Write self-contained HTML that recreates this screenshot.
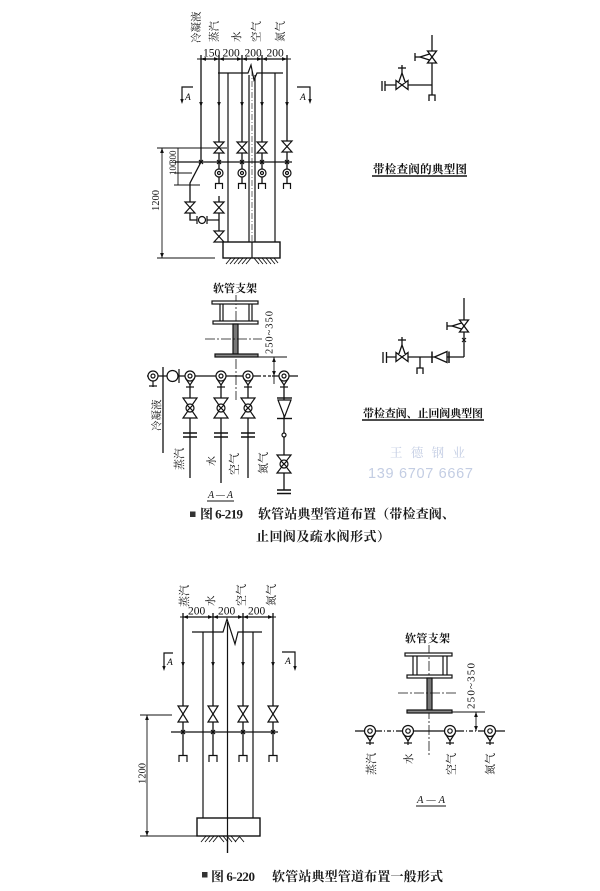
<!DOCTYPE html>
<html><head><meta charset="utf-8"><style>
html,body{margin:0;padding:0;background:#fff;}
svg{display:block;}
</style></head><body>
<svg width="600" height="891" viewBox="0 0 600 891" xmlns="http://www.w3.org/2000/svg">
<defs>
<marker id="a" viewBox="0 0 8 6" refX="8" refY="3" markerWidth="5" markerHeight="4" markerUnits="userSpaceOnUse" orient="auto-start-reverse"><path d="M0,0 L8,3 L0,6 z" fill="#111"/></marker>
</defs>
<rect width="600" height="891" fill="#fff"/>

<!-- ================= TOP-LEFT ELEVATION ================= -->
<g font-family="'Liberation Serif','Noto Serif CJK SC',serif" fill="#111">
<text transform="translate(199.5,43) rotate(-90)" font-size="10.5">冷凝液</text>
<text transform="translate(217.5,42) rotate(-90)" font-size="10.5">蒸汽</text>
<text transform="translate(240,42) rotate(-90)" font-size="10.5">水</text>
<text transform="translate(259.5,42) rotate(-90)" font-size="10.5">空气</text>
<text transform="translate(283.5,42) rotate(-90)" font-size="10.5">氮气</text>
<text x="203" y="56.5" font-size="11.5">150</text>
<text x="222.5" y="56.5" font-size="11.5">200</text>
<text x="244.5" y="56.5" font-size="11.5">200</text>
<text x="266.5" y="56.5" font-size="11.5">200</text>
<text x="185" y="100" font-size="9.5" font-style="italic">A</text>
<text x="300" y="100" font-size="9.5" font-style="italic">A</text>
<text transform="translate(159,211) rotate(-90)" font-size="10.5">1200</text>
<text transform="translate(176,164) rotate(-90)" font-size="9">300</text>
<text transform="translate(176,175) rotate(-90)" font-size="9">100</text>
</g>
<g stroke="#111" fill="none" stroke-width="1.2">
<line x1="197" y1="59" x2="291" y2="59" stroke-width="0.9"/>
<line x1="201" y1="59" x2="219" y2="59" marker-start="url(#a)" marker-end="url(#a)"/>
<line x1="219" y1="59" x2="242" y2="59" marker-start="url(#a)" marker-end="url(#a)"/>
<line x1="242" y1="59" x2="262" y2="59" marker-start="url(#a)" marker-end="url(#a)"/>
<line x1="262" y1="59" x2="287" y2="59" marker-start="url(#a)" marker-end="url(#a)"/>
<polyline points="218,73 248,73 251,65 254,80 257,73 283,73"/>
<line x1="228" y1="73" x2="228" y2="242"/>
<line x1="275" y1="73" x2="275" y2="242"/>
<line x1="249" y1="75" x2="249" y2="242"/>
<line x1="255" y1="75" x2="255" y2="242"/>
<line x1="252" y1="70" x2="252" y2="242" stroke-width="0.6" stroke-dasharray="6 2 1 2"/>
<polyline points="201,55 201,162 190,183 190,220 197,220" stroke-width="1.3"/>
<line x1="197" y1="216" x2="197" y2="224"/>
<circle cx="202" cy="220" r="3.5" fill="#fff"/>
<line x1="207" y1="216" x2="207" y2="224"/>
<line x1="207" y1="220" x2="219" y2="220"/>
<line x1="219" y1="55" x2="219" y2="183" stroke-width="1.3"/>
<line x1="242" y1="55" x2="242" y2="183" stroke-width="1.3"/>
<line x1="262" y1="55" x2="262" y2="183" stroke-width="1.3"/>
<line x1="287" y1="55" x2="287" y2="183" stroke-width="1.3"/>
<line x1="219" y1="196" x2="219" y2="242" stroke-width="1.3"/>
<path d="M214,142 L224,142 L214,153 L224,153 Z" fill="#fff"/>
<path d="M237,142 L247,142 L237,153 L247,153 Z" fill="#fff"/>
<path d="M257,142 L267,142 L257,153 L267,153 Z" fill="#fff"/>
<path d="M282,141 L292,141 L282,152 L292,152 Z" fill="#fff"/>
<path d="M185,202 L195,202 L185,213 L195,213 Z" fill="#fff"/>
<path d="M214,202 L224,202 L214,213 L224,213 Z" fill="#fff"/>
<path d="M214,231 L224,231 L214,242 L224,242 Z" fill="#fff"/>
<line x1="175" y1="162" x2="292" y2="162"/>
<path d="M199,160 l4,4 M203,160 l-4,4 M217,160 l4,4 M221,160 l-4,4 M240,160 l4,4 M244,160 l-4,4 M260,160 l4,4 M264,160 l-4,4 M285,160 l4,4 M289,160 l-4,4"/>
<circle cx="219" cy="173" r="4" fill="#fff"/><circle cx="219" cy="173" r="1.5"/>
<circle cx="242" cy="173" r="4" fill="#fff"/><circle cx="242" cy="173" r="1.5"/>
<circle cx="262" cy="173" r="4" fill="#fff"/><circle cx="262" cy="173" r="1.5"/>
<circle cx="287" cy="173" r="4" fill="#fff"/><circle cx="287" cy="173" r="1.5"/>
<path d="M215.5,189 V183.5 H222.5 V189 M238.5,189 V183.5 H245.5 V189 M258.5,189 V183.5 H265.5 V189 M283.5,189 V183.5 H290.5 V189"/>
<polyline points="193,87 182,87 182,100"/>
<polyline points="297,87 310,87 310,100"/>
<line x1="157" y1="148" x2="227" y2="148" stroke-width="0.9"/>
<line x1="157" y1="258" x2="215" y2="258" stroke-width="0.9"/>
<line x1="162" y1="148" x2="162" y2="258" stroke-width="0.9" marker-start="url(#a)" marker-end="url(#a)"/>
<line x1="178" y1="148" x2="178" y2="185" stroke-width="0.9"/>
<line x1="174" y1="173" x2="192" y2="173" stroke-width="0.9"/>
<line x1="174" y1="185" x2="200" y2="185" stroke-width="0.9"/>
<rect x="223" y="242" width="57" height="16" stroke-width="1.4" fill="#fff"/>
<line x1="252" y1="242" x2="252" y2="258"/>
<path d="M226,264 l5,-6 M230,264 l5,-6 M234,264 l5,-6 M238,264 l5,-6 M242,264 l5,-6 M246,264 l5,-6 M254,258 l5,6 M258,258 l5,6 M262,258 l5,6 M266,258 l5,6 M270,258 l5,6 M274,258 l4,5" stroke-width="0.9"/>
</g>
<g fill="#111">
<polygon points="199.2,102 202.8,102 201,107"/>
<polygon points="217.2,102 220.8,102 219,107"/>
<polygon points="240.2,102 243.8,102 242,107"/>
<polygon points="260.2,102 263.8,102 262,107"/>
<polygon points="285.2,102 288.8,102 287,107"/>
<polygon points="180.3,99 183.7,99 182,104"/>
<polygon points="308.3,99 311.7,99 310,104"/>
</g>

<!-- ================= TOP-RIGHT ================= -->
<g stroke="#111" fill="none" stroke-width="1.3">
<line x1="432" y1="35" x2="432" y2="95"/>
<line x1="385" y1="85" x2="432" y2="85"/>
<line x1="382" y1="81" x2="382" y2="91"/>
<line x1="385" y1="81" x2="385" y2="91"/>
<path d="M429,101 V95 H435 V101"/>
<path d="M427.5,51 L436.5,63 L427.5,63 L436.5,51 Z" fill="#fff"/>
<polyline points="429.5,54 420,57 429.5,60" fill="#fff"/>
<line x1="420" y1="57" x2="415" y2="57"/>
<line x1="415" y1="53" x2="415" y2="61"/>
<path d="M396,80.5 L408,89.5 L408,80.5 L396,89.5 Z" fill="#fff"/>
<polyline points="398.5,83 402,73 405.5,83" fill="#fff"/>
<line x1="402" y1="73" x2="402" y2="65"/>
<line x1="398" y1="68" x2="406" y2="68"/>
<line x1="372" y1="176" x2="467" y2="176" stroke-width="1.4"/>
</g>
<text x="373" y="173" font-family="'Liberation Serif','Noto Serif CJK SC',serif" font-size="11.5" font-weight="bold" fill="#111" textLength="94">带检查阀的典型图</text>

<!-- ================= MIDDLE-LEFT A-A ================= -->
<text x="213" y="292" font-family="'Liberation Serif','Noto Serif CJK SC',serif" font-size="11" font-weight="bold" fill="#111" textLength="44">软管支架</text>
<g stroke="#111" fill="none" stroke-width="1.2">
<line x1="236" y1="295" x2="236" y2="400" stroke-width="0.8" stroke-dasharray="10 2 2 2"/>
<rect x="212" y="301" width="46" height="3" fill="#fff"/>
<line x1="220" y1="304" x2="220" y2="321"/><line x1="223" y1="304" x2="223" y2="321"/>
<line x1="249" y1="304" x2="249" y2="321"/><line x1="252" y1="304" x2="252" y2="321"/>
<rect x="213" y="321" width="45" height="3" fill="#fff"/>
<rect x="233" y="324" width="5" height="30" fill="#777"/>
<line x1="205" y1="339" x2="262" y2="339" stroke-width="0.8" stroke-dasharray="10 2 2 2"/>
<rect x="215" y="354" width="43" height="3" fill="#888"/>
<line x1="258" y1="357" x2="287" y2="357" stroke-width="0.9"/>
<line x1="274" y1="357" x2="274" y2="376" stroke-width="0.9" marker-start="url(#a)" marker-end="url(#a)"/>
<line x1="274" y1="376" x2="274" y2="384" stroke-width="0.9"/>
<line x1="147" y1="376" x2="258" y2="376"/>
<line x1="258" y1="376" x2="272" y2="376" stroke-dasharray="3 2"/>
<line x1="272" y1="376" x2="298" y2="376"/>
<line x1="163" y1="367" x2="163" y2="453" stroke-width="1.3"/>
<circle cx="153" cy="376" r="5" fill="#fff"/><circle cx="153" cy="376" r="2"/>
<line x1="153" y1="381" x2="153" y2="387"/><line x1="149" y1="386" x2="157" y2="386"/>
<circle cx="172.5" cy="376" r="5.5" fill="#fff"/>
<line x1="179" y1="369" x2="179" y2="383"/>
<line x1="190" y1="385" x2="190" y2="478" stroke-width="1.3"/>
<line x1="221" y1="385" x2="221" y2="483" stroke-width="1.3"/>
<line x1="248" y1="385" x2="248" y2="478" stroke-width="1.3"/>
<line x1="284" y1="385" x2="284" y2="490" stroke-width="1.3"/>
<circle cx="190" cy="376" r="5" fill="#fff"/><circle cx="190" cy="376" r="2"/><polyline points="185.7,378.5 190,385 194.3,378.5"/><line x1="186" y1="387" x2="194" y2="387"/>
<circle cx="221" cy="376" r="5" fill="#fff"/><circle cx="221" cy="376" r="2"/><polyline points="216.7,378.5 221,385 225.3,378.5"/><line x1="217" y1="387" x2="225" y2="387"/>
<circle cx="248" cy="376" r="5" fill="#fff"/><circle cx="248" cy="376" r="2"/><polyline points="243.7,378.5 248,385 252.3,378.5"/><line x1="244" y1="387" x2="252" y2="387"/>
<circle cx="284" cy="376" r="5" fill="#fff"/><circle cx="284" cy="376" r="2"/><polyline points="279.7,378.5 284,385 288.3,378.5"/><line x1="280" y1="387" x2="288" y2="387"/>
<path d="M183,398 L197,398 L183,418 L197,418 Z" fill="#fff"/><circle cx="190" cy="408" r="4" fill="#fff"/><path d="M187.2,405.2 l5.6,5.6 M192.8,405.2 l-5.6,5.6"/>
<path d="M214,398 L228,398 L214,418 L228,418 Z" fill="#fff"/><circle cx="221" cy="408" r="4" fill="#fff"/><path d="M218.2,405.2 l5.6,5.6 M223.8,405.2 l-5.6,5.6"/>
<path d="M241,398 L255,398 L241,418 L255,418 Z" fill="#fff"/><circle cx="248" cy="408" r="4" fill="#fff"/><path d="M245.2,405.2 l5.6,5.6 M250.8,405.2 l-5.6,5.6"/>
<path d="M277,455 L291,455 L277,473 L291,473 Z" fill="#fff"/><circle cx="284" cy="464" r="4" fill="#fff"/><path d="M281.2,461.2 l5.6,5.6 M286.8,461.2 l-5.6,5.6"/>
<path d="M183,433 H197 M183,437 H197 M214,433 H228 M214,437 H228 M241,433 H255 M241,437 H255 M277,490 H291 M277,493.5 H291" stroke-width="1.4"/>
<line x1="277" y1="398" x2="292" y2="398" stroke-width="1.4"/>
<polygon points="278,400 291,400 284.5,417" fill="#fff"/>
<line x1="277" y1="418.5" x2="292" y2="418.5" stroke-width="1.4"/>
<circle cx="284" cy="435" r="2" fill="#fff"/>
</g>
<g font-family="'Liberation Serif','Noto Serif CJK SC',serif" fill="#111">
<text transform="translate(160,431) rotate(-90)" font-size="10.5">冷凝液</text>
<text transform="translate(183,470) rotate(-90)" font-size="11">蒸汽</text>
<text transform="translate(215,466) rotate(-90)" font-size="10">水</text>
<text transform="translate(238,475) rotate(-90)" font-size="11">空气</text>
<text transform="translate(267,474) rotate(-90)" font-size="11">氮气</text>
<text transform="translate(272.5,354) rotate(-90)" font-size="10.5" textLength="43">250~350</text>
<text x="208" y="498" font-size="10" font-style="italic" textLength="25">A—A</text>
</g>
<line x1="207" y1="501" x2="234" y2="501" stroke="#111" stroke-width="1"/>

<!-- ================= MIDDLE-RIGHT ================= -->
<g stroke="#111" fill="none" stroke-width="1.3">
<line x1="464" y1="298" x2="464" y2="357"/>
<path d="M459.5,320 L468.5,332 L459.5,332 L468.5,320 Z" fill="#fff"/>
<polyline points="461.5,323 452,326 461.5,329" fill="#fff"/>
<line x1="452" y1="326" x2="447" y2="326"/>
<line x1="447" y1="322" x2="447" y2="330"/>
<path d="M462,338 l4,4 M466,338 l-4,4" stroke-width="1"/>
<line x1="387" y1="357" x2="464" y2="357"/>
<line x1="383" y1="352" x2="383" y2="363"/>
<line x1="386.5" y1="352" x2="386.5" y2="363"/>
<line x1="432" y1="351.5" x2="432" y2="363" stroke-width="1.5"/>
<polygon points="434.5,357 447,351.5 447,362.5" fill="#fff"/>
<line x1="449" y1="351.5" x2="449" y2="363" stroke-width="1.5"/>
<line x1="420" y1="357" x2="420" y2="368"/>
<path d="M417,374 V368 H423 V374"/>
<path d="M396,352.5 L408,361.5 L408,352.5 L396,361.5 Z" fill="#fff"/>
<polyline points="398.5,355 402,345 405.5,355" fill="#fff"/>
<line x1="402" y1="345" x2="402" y2="337"/>
<line x1="398" y1="340" x2="406" y2="340"/>
<line x1="362" y1="420" x2="484" y2="420" stroke-width="1.4"/>
</g>
<text x="363" y="417" font-family="'Liberation Serif','Noto Serif CJK SC',serif" font-size="11" font-weight="bold" fill="#111" textLength="120">带检查阀、止回阀典型图</text>
<text x="390" y="457" font-family="'Liberation Sans','Noto Serif CJK SC',serif" font-size="12.5" fill="#c3cde3" textLength="75">王 德 钢 业</text>
<text x="368" y="478" font-family="'Liberation Sans',sans-serif" font-size="14.5" fill="#c3cde3" textLength="105">139 6707 6667</text>

<!-- ================= CAPTION 1 ================= -->
<g font-family="'Liberation Serif','Noto Serif CJK SC',serif" font-weight="bold" fill="#1a1a1a">
<rect x="190" y="511.5" width="5.5" height="5.5" fill="#333"/>
<text x="200" y="518.5" font-size="13" textLength="43">图 6-219</text>
<text x="258" y="518.5" font-size="13" textLength="197">软管站典型管道布置（带检查阀、</text>
<text x="256" y="541" font-size="13" textLength="134">止回阀及疏水阀形式）</text>
</g>

<!-- ================= BOTTOM-LEFT ELEVATION ================= -->
<g font-family="'Liberation Serif','Noto Serif CJK SC',serif" fill="#111">
<text transform="translate(188,607) rotate(-90)" font-size="11">蒸汽</text>
<text transform="translate(214,606) rotate(-90)" font-size="10.5">水</text>
<text transform="translate(245,606) rotate(-90)" font-size="11">空气</text>
<text transform="translate(275,606) rotate(-90)" font-size="11">氮气</text>
<text x="188" y="614.5" font-size="11.5">200</text>
<text x="218" y="614.5" font-size="11.5">200</text>
<text x="248" y="614.5" font-size="11.5">200</text>
<text x="167" y="665" font-size="9.5" font-style="italic">A</text>
<text x="285" y="664" font-size="9.5" font-style="italic">A</text>
<text transform="translate(145.5,784) rotate(-90)" font-size="10.5">1200</text>
</g>
<g stroke="#111" fill="none" stroke-width="1.2">
<line x1="180" y1="617" x2="276" y2="617" stroke-width="0.9"/>
<line x1="183" y1="617" x2="213" y2="617" marker-start="url(#a)" marker-end="url(#a)"/>
<line x1="213" y1="617" x2="243" y2="617" marker-start="url(#a)" marker-end="url(#a)"/>
<line x1="243" y1="617" x2="273" y2="617" marker-start="url(#a)" marker-end="url(#a)"/>
<polyline points="192,632 223,632 227,619 235,644 238,632 262,632"/>
<line x1="203" y1="632" x2="203" y2="818"/>
<line x1="253" y1="632" x2="253" y2="818"/>
<line x1="227.5" y1="622" x2="227.5" y2="853"/>
<line x1="183" y1="613" x2="183" y2="755" stroke-width="1.3"/>
<line x1="213" y1="613" x2="213" y2="755" stroke-width="1.3"/>
<line x1="243" y1="613" x2="243" y2="755" stroke-width="1.3"/>
<line x1="273" y1="613" x2="273" y2="755" stroke-width="1.3"/>
<polyline points="173,653 164,653 164,667"/>
<polyline points="282,652 295,652 295,667"/>
<path d="M178,706 L188,706 L178,722 L188,722 Z" fill="#fff"/>
<path d="M208,706 L218,706 L208,722 L218,722 Z" fill="#fff"/>
<path d="M238,706 L248,706 L238,722 L248,722 Z" fill="#fff"/>
<path d="M268,706 L278,706 L268,722 L278,722 Z" fill="#fff"/>
<line x1="140" y1="715" x2="172" y2="715" stroke-width="0.9"/>
<line x1="147" y1="715" x2="147" y2="836" stroke-width="0.9" marker-start="url(#a)" marker-end="url(#a)"/>
<line x1="140" y1="836" x2="197" y2="836" stroke-width="0.9"/>
<line x1="171" y1="732" x2="278" y2="732"/>
<path d="M181,730 l4,4 M185,730 l-4,4 M211,730 l4,4 M215,730 l-4,4 M241,730 l4,4 M245,730 l-4,4 M271,730 l4,4 M275,730 l-4,4"/>
<path d="M179,762 V755.5 H187 V762 M209,762 V755.5 H217 V762 M239,762 V755.5 H247 V762 M269,762 V755.5 H277 V762"/>
<rect x="197" y="818" width="63" height="18" stroke-width="1.4" fill="#fff"/>
<line x1="227.5" y1="818" x2="227.5" y2="853"/>
<path d="M201,842 l5,-6 M205,842 l5,-6 M209,842 l5,-6 M213,842 l5,-6 M219,836 l5,6 M223,836 l5,6 M227,836 l5,6 M231,836 l5,6 M235,842 l5,-6 M239,836 l5,6" stroke-width="0.9"/>
</g>
<g fill="#111">
<polygon points="181.2,662 184.8,662 183,667"/>
<polygon points="211.2,662 214.8,662 213,667"/>
<polygon points="241.2,662 244.8,662 243,667"/>
<polygon points="271.2,662 274.8,662 273,667"/>
<polygon points="162.3,666 165.7,666 164,671"/>
<polygon points="293.3,666 296.7,666 295,671"/>
</g>

<!-- ================= BOTTOM-RIGHT A-A ================= -->
<text x="405" y="642" font-family="'Liberation Serif','Noto Serif CJK SC',serif" font-size="11" font-weight="bold" fill="#111" textLength="45">软管支架</text>
<g stroke="#111" fill="none" stroke-width="1.2">
<line x1="429" y1="645" x2="429" y2="755" stroke-width="0.8" stroke-dasharray="10 2 2 2"/>
<rect x="405" y="653" width="47" height="3" fill="#fff"/>
<line x1="413" y1="656" x2="413" y2="675"/><line x1="417" y1="656" x2="417" y2="675"/>
<line x1="443" y1="656" x2="443" y2="675"/><line x1="447" y1="656" x2="447" y2="675"/>
<rect x="407" y="675" width="45" height="3" fill="#fff"/>
<rect x="427" y="678" width="5" height="32" fill="#777"/>
<line x1="398" y1="693" x2="458" y2="693" stroke-width="0.8" stroke-dasharray="10 2 2 2"/>
<rect x="407" y="710" width="45" height="3" fill="#888"/>
<line x1="452" y1="712" x2="485" y2="712" stroke-width="0.9"/>
<line x1="476" y1="712" x2="476" y2="731" stroke-width="0.9" marker-start="url(#a)" marker-end="url(#a)"/>
<line x1="355" y1="731" x2="378" y2="731"/>
<line x1="378" y1="731" x2="400" y2="731" stroke-dasharray="4 2 1 2"/>
<line x1="400" y1="731" x2="460" y2="731"/>
<line x1="460" y1="731" x2="482" y2="731" stroke-dasharray="4 2 1 2"/>
<line x1="482" y1="731" x2="505" y2="731"/>
<circle cx="370" cy="731" r="5.5" fill="#fff"/><circle cx="370" cy="731" r="2.2"/><polyline points="365.2,733.5 370,741 374.8,733.5"/><line x1="370" y1="741" x2="370" y2="745"/><line x1="366" y1="743" x2="374" y2="743"/>
<circle cx="408" cy="731" r="5.5" fill="#fff"/><circle cx="408" cy="731" r="2.2"/><polyline points="403.2,733.5 408,741 412.8,733.5"/><line x1="408" y1="741" x2="408" y2="745"/><line x1="404" y1="743" x2="412" y2="743"/>
<circle cx="450" cy="731" r="5.5" fill="#fff"/><circle cx="450" cy="731" r="2.2"/><polyline points="445.2,733.5 450,741 454.8,733.5"/><line x1="450" y1="741" x2="450" y2="745"/><line x1="446" y1="743" x2="454" y2="743"/>
<circle cx="490" cy="731" r="5.5" fill="#fff"/><circle cx="490" cy="731" r="2.2"/><polyline points="485.2,733.5 490,741 494.8,733.5"/><line x1="490" y1="741" x2="490" y2="745"/><line x1="486" y1="743" x2="494" y2="743"/>
<line x1="416" y1="806" x2="446" y2="806" stroke-width="1"/>
</g>
<g font-family="'Liberation Serif','Noto Serif CJK SC',serif" fill="#111">
<text transform="translate(375,775) rotate(-90)" font-size="11">蒸汽</text>
<text transform="translate(412,764) rotate(-90)" font-size="10.5">水</text>
<text transform="translate(455,775) rotate(-90)" font-size="11">空气</text>
<text transform="translate(494,775) rotate(-90)" font-size="11">氮气</text>
<text transform="translate(474.5,709) rotate(-90)" font-size="11" textLength="46">250~350</text>
<text x="417" y="803" font-size="10.5" font-style="italic" textLength="28">A—A</text>
</g>

<!-- ================= CAPTION 2 ================= -->
<g font-family="'Liberation Serif','Noto Serif CJK SC',serif" font-weight="bold" fill="#1a1a1a">
<rect x="202" y="872" width="5.5" height="5.5" fill="#333"/>
<text x="211" y="881" font-size="13" textLength="44">图 6-220</text>
<text x="272" y="881" font-size="13" textLength="171">软管站典型管道布置一般形式</text>
</g>
</svg>
</body></html>
